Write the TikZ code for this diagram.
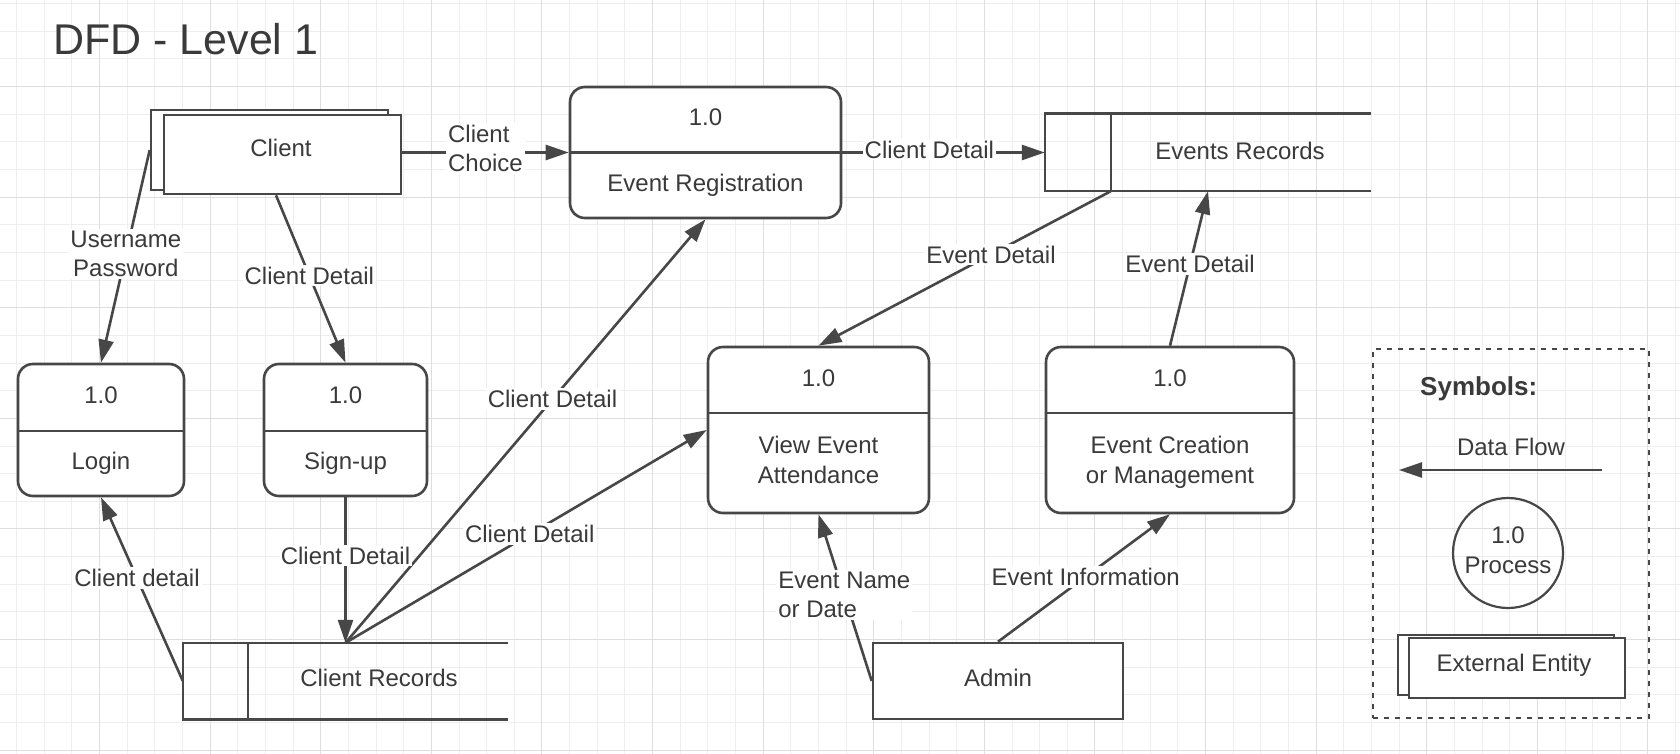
\documentclass[tikz,border=0pt]{standalone}
\usepackage{fontspec}
\setmainfont{Liberation Sans}
\usetikzlibrary{arrows.meta}
\definecolor{lncol}{HTML}{474747}
\definecolor{txcol}{HTML}{3A3A3A}
\definecolor{gridmin}{HTML}{EEEEEE}
\definecolor{gridmaj}{HTML}{DEDEDE}
\tikzset{
  ln/.style={draw=lncol, line width=2.6pt},
  flow/.style={draw=lncol, line width=2.6pt, -{Triangle[length=23pt,width=15pt]}},
  proc/.style={ln, fill=white, rounded corners=15pt, inner sep=0pt},
  ent/.style={ln, fill=white, inner sep=0pt},
  store/.style={inner sep=0pt},
  txt/.style={text=txcol, font=\fontsize{24}{30}\selectfont, align=center, inner sep=0pt, anchor=base},
  lbl/.style={fill=white, text=txcol, font=\fontsize{24}{29}\selectfont, inner sep=2pt, align=center},
}
\begin{document}
\begin{tikzpicture}[x=1pt,y=-1pt]
\useasboundingbox (0,0) rectangle (1680,754);
\fill[white] (0,0) rectangle (1680,754);
% grid
\foreach \k in {0,...,60} \draw[gridmin, line width=0.9pt] ({16.55+\k*27.65},0) -- ({16.55+\k*27.65},754);
\foreach \k in {0,...,27} \draw[gridmin, line width=0.9pt] (0,{3.55+\k*27.65}) -- (1680,{3.55+\k*27.65});
\foreach \k in {0,...,14} \draw[gridmaj, line width=1.1pt] ({99.5+\k*110.6},0) -- ({99.5+\k*110.6},754);
\foreach \k in {0,...,6} \draw[gridmaj, line width=1.1pt] (0,{86.5+\k*110.6}) -- (1680,{86.5+\k*110.6});

% title
\node[anchor=base west, text=txcol, font=\fontsize{43}{50}\selectfont, inner sep=0pt] (title) at (53,55) {DFD - Level 1};

% external entity: Client
\node[ent, minimum width=237pt, minimum height=80pt] (clientback) at (269.5,150) {};
\node[ent, minimum width=237pt, minimum height=79pt] (client) at (282.5,154.5) {};
\node[txt] (clienttx) at (281,156.5) {Client};

% processes
\node[proc, minimum width=271pt, minimum height=131pt] (reg) at (705.5,152.5) {};
\draw[ln] (reg.west) -- (reg.east);
\node[txt] (regnum) at (705.5,125.5) {1.0};
\node[txt] (regtx) at (705.5,191.5) {Event Registration};

\node[proc, minimum width=221pt, minimum height=166pt] (view) at (818.5,430) {};
\draw[ln] ([yshift=17pt]view.west) -- ([yshift=17pt]view.east);
\node[txt] (viewnum) at (818.5,386.5) {1.0};
\node[txt] (viewtx) at (818.5,483.5) {View Event\\Attendance};

\node[proc, minimum width=248pt, minimum height=166pt] (creat) at (1170,430) {};
\draw[ln] ([yshift=17pt]creat.west) -- ([yshift=17pt]creat.east);
\node[txt] (creatnum) at (1170,386.5) {1.0};
\node[txt] (creattx) at (1170,483.5) {Event Creation\\or Management};

\node[proc, minimum width=166pt, minimum height=132pt] (login) at (101,430) {};
\draw[ln] ([yshift=-1pt]login.west) -- ([yshift=-1pt]login.east);
\node[txt] (loginnum) at (101,403.5) {1.0};
\node[txt] (logintx) at (101,469.5) {Login};

\node[proc, minimum width=163pt, minimum height=132pt] (signup) at (345.5,430) {};
\draw[ln] ([yshift=-1pt]signup.west) -- ([yshift=-1pt]signup.east);
\node[txt] (signupnum) at (345.5,403.5) {1.0};
\node[txt] (signuptx) at (345.5,469.5) {Sign-up};

% data stores
\node[store, minimum width=326pt, minimum height=77pt] (er) at (1208,152.5) {};
\draw[ln] (er.north east) -- (er.north west) -- (er.south west) -- (er.south east);
\draw[ln] ([xshift=66pt]er.north west) -- ([xshift=66pt]er.south west);
\node[txt] (ertx) at (1240,159.5) {Events Records};

\node[store, minimum width=325pt, minimum height=76pt] (cr) at (345.5,681) {};
\draw[ln] (cr.north east) -- (cr.north west) -- (cr.south west) -- (cr.south east);
\draw[ln] ([xshift=65pt]cr.north west) -- ([xshift=65pt]cr.south west);
\node[txt] (crtx) at (379,686.5) {Client Records};

% Admin
\node[ent, minimum width=250pt, minimum height=76pt] (admin) at (998,681) {};
\node[txt] (admintx) at (998,686.5) {Admin};

% flows
\draw[flow] (client.east |- reg.west) -- node[lbl, pos=0.5, yshift=4pt, align=left] (l1) {Client\\Choice} (reg.west);
\draw[flow] (reg.east) -- node[lbl, pos=0.43, yshift=3pt] (l2) {Client Detail} (er.west);
\draw[flow] ([xshift=66pt]er.south west) -- node[lbl, pos=0.41] (l3) {Event Detail} (view.north);
\draw[flow] (creat.north) -- node[lbl, pos=0.53] (l4) {Event Detail} (er.south);
\draw[flow] (cr.north) -- node[lbl, pos=0.575] (l5) {Client Detail} (reg.south);
\draw[flow] (cr.north) -- node[lbl, pos=0.51] (l6) {Client Detail} (view.west);
\draw[flow] (signup.south) -- node[lbl, pos=0.40] (l7) {Client Detail} (cr.north);
\draw[flow] (cr.west) -- node[lbl, pos=0.56] (l8) {Client detail} (login.south);
\draw[flow] (clientback.west) -- node[lbl, pos=0.49] (l9) {Username\\Password} (login.north);
\draw[flow] ([xshift=-6.5pt]client.south) -- node[lbl, pos=0.48] (l10) {Client Detail} (signup.north);
\draw[flow] (admin.west) -- node[lbl, pos=0.515, align=left] (l11) {Event Name\\or Date} (view.south);
\draw[flow] (admin.north) -- node[lbl, pos=0.51] (l12) {Event Information} (creat.south);

% legend
\node[draw=lncol, line width=2.6pt, dash pattern=on 5pt off 6pt, minimum width=276pt, minimum height=369pt, inner sep=0pt] (legend) at (1511,533.5) {};
\node[anchor=base west, text=txcol, font=\fontsize{26}{30}\selectfont\bfseries, inner sep=0pt] (symb) at (1420,395) {Symbols:};
\node[txt] (dftx) at (1511,455.5) {Data Flow};
\coordinate (dfA) at (1602,470);
\coordinate (dfB) at (1399,470);
\draw[flow] (dfA) -- (dfB);
\node[circle, draw=lncol, line width=2.2pt, minimum size=110pt, inner sep=0pt] (pc) at (1508,553) {};
\node[txt] (pctx) at (1508,573.5) {1.0\\Process};
\node[ent, minimum width=216pt, minimum height=60pt] (eeback) at (1506,665) {};
\node[ent, minimum width=216pt, minimum height=60pt] (ee) at (1517,668) {};
\node[txt] (eetx) at (1514,671.5) {External Entity};
\end{tikzpicture}
\end{document}
